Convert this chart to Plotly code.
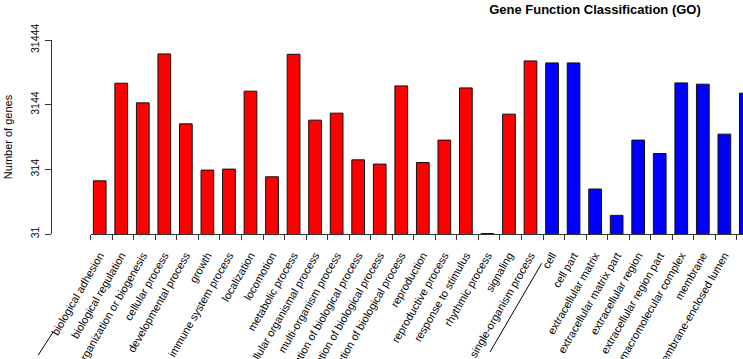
import plotly.graph_objects as go

categories = [
    "biological adhesion", "biological regulation",
    "cellular component organization or biogenesis", "cellular process",
    "developmental process", "growth", "immune system process", "localization",
    "locomotion", "metabolic process", "multicellular organismal process",
    "multi-organism process", "negative regulation of biological process",
    "positive regulation of biological process", "regulation of biological process",
    "reproduction", "reproductive process", "response to stimulus",
    "rhythmic process", "signaling", "single-organism process",
    "cell", "cell part", "extracellular matrix", "extracellular matrix part",
    "extracellular region", "extracellular region part", "macromolecular complex",
    "membrane", "membrane-enclosed lumen", "membrane part",
]
gene_counts = [
    209, 6755, 3352, 19150, 1588, 306, 317, 5082, 241, 18930, 1812, 2324,
    441, 379, 6132, 401, 890, 5711, 32, 2242, 14924,
    13907, 13907, 156, 61, 890, 552, 6826, 6521, 1101, 4735,
]
groups = ["BP"] * 21 + ["CC"] * 10
group_colors = {"BP": "#FF0000", "CC": "#0000FF"}

y_tick_vals = [31.444, 314.44, 3144.4, 31444]
y_tick_text = ["31", "314", "3144", "31444"]

positions = list(range(len(categories)))
tick_marks = [p - 0.42 for p in positions]
colors = [group_colors[g] for g in groups]

FONT = "Liberation Sans, Arial, sans-serif"
x_lo, x_hi = -2.2145, 29.866

fig = go.Figure()
fig.add_trace(go.Bar(
    x=positions, y=gene_counts,
    marker=dict(color=colors, line=dict(color="#111111", width=1)),
    hoverinfo="x+y", showlegend=False,
))
fig.add_trace(go.Scatter(x=[None], y=[None], xaxis="x2", yaxis="y",
                         showlegend=False, hoverinfo="skip"))

fig.update_layout(
    width=743, height=359,
    margin=dict(l=52, r=0, t=40, b=125, pad=0),
    paper_bgcolor="white", plot_bgcolor="rgba(0,0,0,0)",
    bargap=0.41,
    font=dict(family=FONT, color="black", size=11),
    title=dict(text="<b>Gene Function Classification (GO)</b>",
               xref="container", x=595 / 743, xanchor="center",
               yref="container", y=1 - 9 / 359, yanchor="middle",
               font=dict(size=13, family=FONT, color="black")),
    xaxis=dict(
        type="linear", range=[x_lo, x_hi],
        tickmode="array", tickvals=positions, ticktext=categories,
        tickangle=-60, ticks="", showline=False, showgrid=False,
        zeroline=False, automargin=False, ticklabelstandoff=12,
        tickfont=dict(size=11, family=FONT, color="black"),
    ),
    xaxis2=dict(
        type="linear", domain=[(90.7 - 52) / 691, 1], anchor="y",
        range=[-0.42, x_hi],
        tickmode="array", tickvals=tick_marks, showticklabels=False,
        ticks="outside", ticklen=5, tickcolor="#333333", tickwidth=1,
        showline=True, linecolor="#333333", linewidth=1,
        showgrid=False, zeroline=False, automargin=False,
    ),
    yaxis=dict(
        type="log", range=[1.49755, 4.49755],
        tickmode="array", tickvals=y_tick_vals, ticktext=y_tick_text,
        tickangle=-90, ticks="outside", ticklen=6, tickcolor="#333333",
        showline=True, linecolor="#333333", linewidth=1,
        showgrid=False, zeroline=False, automargin=False,
        ticklabelstandoff=2,
        tickfont=dict(size=10.5, family=FONT, color="black"),
        title=dict(text="Number of genes", standoff=13,
                   font=dict(size=11, family=FONT, color="black")),
    ),
    shapes=[
        dict(type="line", xref="paper", yref="paper",
             x0=(38.3 - 52) / 691, y0=(234 - 355) / 194,
             x1=(53.3 - 52) / 691, y1=(234 - 331.7) / 194,
             line=dict(color="black", width=1)),
        dict(type="line", xref="paper", yref="paper",
             x0=(490 - 52) / 691, y0=(234 - 352) / 194,
             x1=(541.7 - 52) / 691, y1=(234 - 263.3) / 194,
             line=dict(color="black", width=1)),
    ],
)

fig.write_html(
    "out.html",
    config={"displayModeBar": False},
    post_script="document.body.style.margin='0px';document.body.style.overflow='hidden';",
)
